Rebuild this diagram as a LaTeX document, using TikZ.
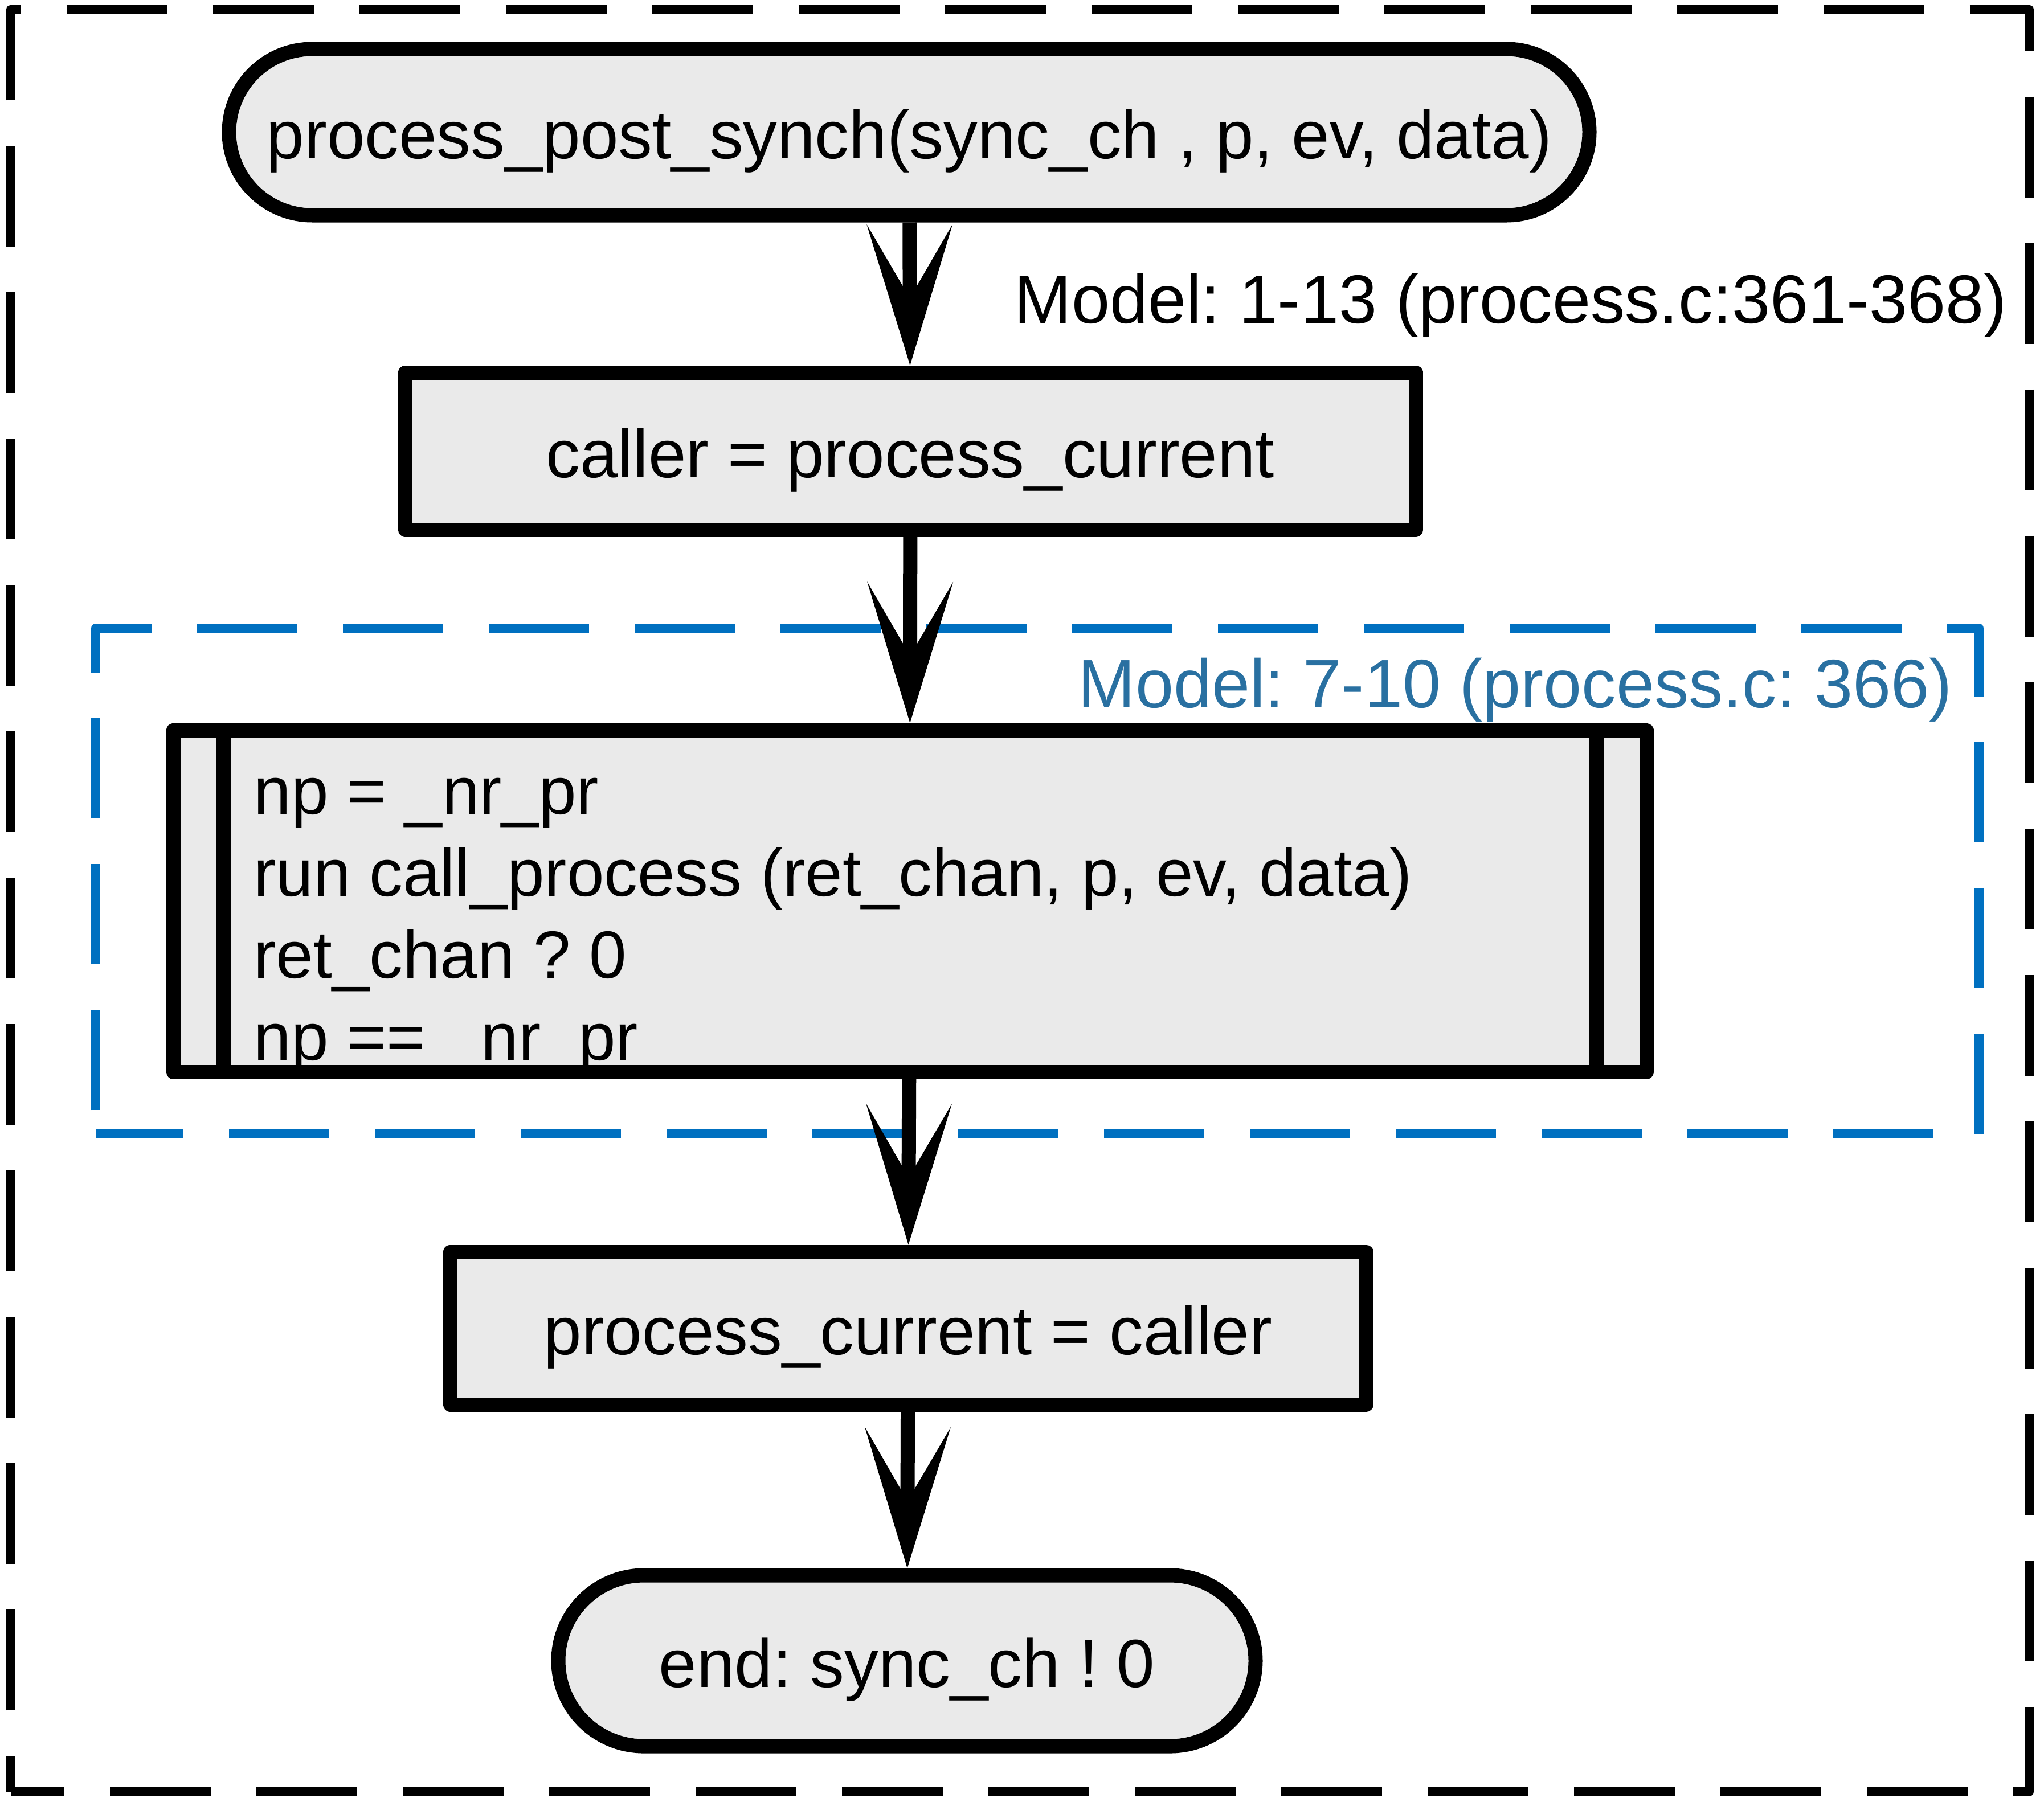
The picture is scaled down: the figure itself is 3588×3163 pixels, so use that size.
\documentclass[tikz,border=0pt]{standalone}
\usepackage{fontspec}
\setmainfont{Liberation Sans}
\usetikzlibrary{arrows.meta,shapes.misc}

\definecolor{boxfill}{RGB}{234,234,234}
\definecolor{frameblue}{RGB}{0,112,192}
\definecolor{labelblue}{RGB}{41,112,161}

\begin{document}
\frenchspacing
\begin{tikzpicture}[
    x=0.1mm,
    y=0.1mm,
    every node/.style={font=\fontsize{34pt}{40.97pt}\selectfont},
    terminal/.style={rounded rectangle,draw,fill=boxfill,line width=2.5mm,inner sep=0pt,
        text height=26.5pt,text depth=0pt},
    action/.style={rectangle,draw,fill=boxfill,line width=2.5mm,line join=round,inner sep=0pt,
        text height=26.5pt,text depth=0pt},
    subproc/.style={rectangle,fill=boxfill,inner sep=0pt,outer sep=0pt,
        minimum width=258.6mm,minimum height=60mm},
    subline/.style={line width=2.5mm,line join=round},
    codetext/.style={anchor=north west,align=left,inner sep=0pt,
        font=\fontsize{33.5pt}{40.97pt}\selectfont},
    flow/.style={line width=2.5mm,-{Stealth[length=24.8mm,width=15.1mm,inset=13mm,line width=0pt]}},
    outerframe/.style={line width=1.6mm,dash pattern=on 17.7mm off 8mm,dash phase=11.4mm,line join=round},
    modelframe/.style={draw=frameblue,line width=1.6mm,dash pattern=on 17.6mm off 8mm,dash phase=21.4mm,line join=round},
    modellabel/.style={anchor=base west,inner sep=0pt,font=\fontsize{34.3pt}{41pt}\selectfont}
]
\useasboundingbox (0,0) rectangle (3588,-3163);

% Model scopes.
\draw[outerframe] (19,-3146) -- (19,-17) -- (3562,-17) -- (3562,-3146) -- cycle;
\draw[modelframe] (168,-1991) -- (168,-1103) -- (3474,-1103) -- (3474,-1991) -- cycle;
\node[modellabel] (lblall) at (1780,-567) {Model: 1-13 (process.c:361-368)};
\node[modellabel,text=labelblue] (lblsub) at (1892,-1242) {Model: 7-10 (process.c: 366)};

% Flow steps.
\node[terminal,minimum width=238.8mm,minimum height=29.2mm] (start) at (1596,-232)
    {process\_post\_synch(sync\_ch , p, ev, data)};
\node[action,minimum width=177.4mm,minimum height=27.6mm] (caller) at (1598,-792)
    {caller = process\_current};
\node[subproc] (sub) at (1597,-1582) {};
\node[codetext] (subtxt) at (445,-1328)
    {\strut np = \_nr\_pr\\
     \strut run call\_process (ret\_chan, p, ev, data)\\
     \strut ret\_chan ? 0\\
     \strut np == \_nr\_pr};
\draw[subline] (sub.north west) rectangle (sub.south east);
\draw[subline] ([xshift=8.8mm]sub.north west) -- ([xshift=8.8mm]sub.south west);
\draw[subline] ([xshift=-8.8mm]sub.north east) -- ([xshift=-8.8mm]sub.south east);
\node[action,minimum width=160.8mm,minimum height=26.8mm] (restore) at (1594,-2332)
    {process\_current = caller};
\node[terminal,minimum width=122.4mm,minimum height=30mm] (finish) at (1592,-2916)
    {end: sync\_ch ! 0};

% Control flow.
\draw[flow] (start) -- (caller);
\draw[flow,shorten >=1.25mm] (caller) -- (sub);
\draw[flow] (sub) -- (restore);
\draw[flow] (restore) -- (finish);

\end{tikzpicture}
\end{document}
